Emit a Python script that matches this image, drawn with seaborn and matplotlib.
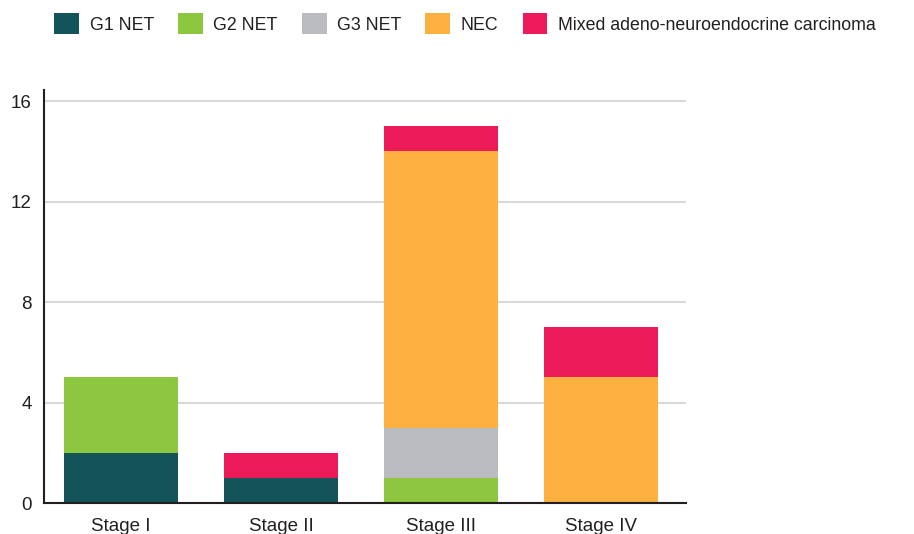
import pandas as pd
import matplotlib
matplotlib.use("Agg")
import matplotlib.pyplot as plt
import seaborn as sns
from matplotlib.patches import Patch

# datos del grafico
stages = ["Stage I", "Stage II", "Stage III", "Stage IV"]
g1_net = [2, 1, 0, 0]
g2_net = [3, 0, 1, 0]
g3_net = [0, 0, 2, 0]
nec = [0, 0, 11, 5]
mixed = [0, 1, 1, 2]

series = ["G1 NET", "G2 NET", "G3 NET", "NEC", "Mixed adeno-neuroendocrine carcinoma"]
colors = ["#13545a", "#8dc63f", "#bbbcbf", "#fbb040", "#ed1a59"]

df = pd.DataFrame({"stage": stages, series[0]: g1_net, series[1]: g2_net,
                   series[2]: g3_net, series[3]: nec, series[4]: mixed})
cum = df[series].cumsum(axis=1)
cum["stage"] = df["stage"]

sns.set_theme(style="white")
plt.rcParams["font.family"] = ["Liberation Sans", "DejaVu Sans"]

fig = plt.figure(figsize=(9.14, 5.34), dpi=100)
ax = fig.add_axes([44 / 914, 31 / 534, (686 - 44) / 914, (503 - 90) / 534])

# barras apiladas: dibujar acumulados de arriba hacia abajo
for name, color in reversed(list(zip(series, colors))):
    sns.barplot(data=cum, x="stage", y=name, color=color, width=0.71,
                saturation=1, linewidth=0, ax=ax, zorder=2)

ax.set_xlim(-0.48, 3.53)
ax.set_ylim(0, 16.44)
ax.set_yticks([0, 4, 8, 12, 16])
ax.set_xlabel("")
ax.set_ylabel("")
ax.yaxis.grid(True, color="#d9d9d9", linewidth=1.5, zorder=0)
ax.set_axisbelow(True)
for s in ["top", "right"]:
    ax.spines[s].set_visible(False)
for s in ["left", "bottom"]:
    ax.spines[s].set_color("#231f20")
    ax.spines[s].set_linewidth(1.5)
    ax.spines[s].set_zorder(3)
ax.tick_params(axis="both", length=0, labelsize=13.5, colors="#231f20")
ax.tick_params(axis="x", pad=11)
ax.tick_params(axis="y", pad=9)

handles = [Patch(facecolor=c, edgecolor="none") for c in colors]
fig.legend(handles, series, loc="upper left", bbox_to_anchor=(38 / 914, 1.005),
           ncol=5, frameon=False, fontsize=12.8, handlelength=1.4,
           handleheight=1.45, handletextpad=0.6, columnspacing=1.35,
           borderaxespad=0.5, labelcolor="#231f20")

plt.savefig("out.png", dpi=100)
